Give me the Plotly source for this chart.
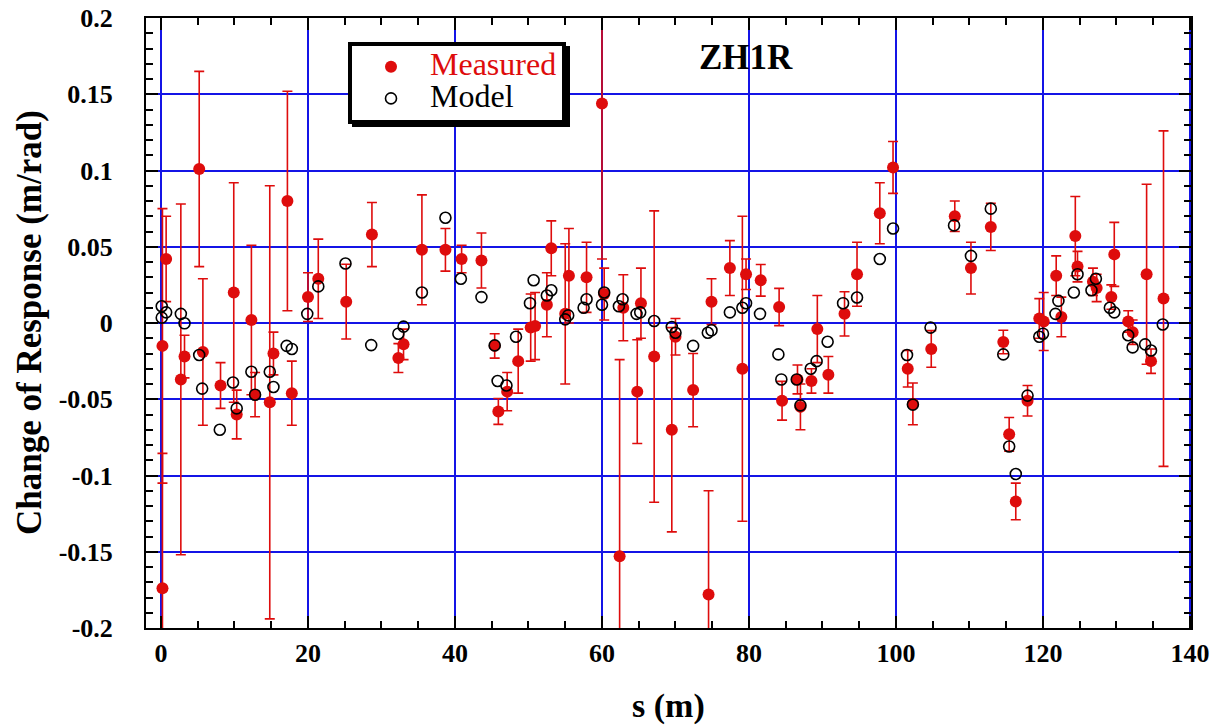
import plotly.graph_objects as go

# Measured change of response at each BPM position, with symmetric errors
meas_s = [0.2, 0.2, 0.7, 2.7, 3.2, 5.2, 5.7, 8.1, 9.9, 10.3, 12.3, 12.8, 14.8, 15.3,
          17.2, 17.8, 20.0, 21.4, 25.2, 28.7, 32.3, 33.0, 35.5, 38.7, 40.9, 43.6,
          45.4, 45.9, 47.1, 48.6, 50.3, 50.9, 52.5, 53.1, 55.0, 55.5, 57.9, 60.0,
          60.3, 62.4, 62.9, 64.8, 65.3, 67.1, 69.5, 70.0, 72.4, 74.5, 74.9, 77.4,
          79.1, 79.6, 81.6, 84.1, 84.5, 86.6, 87.0, 88.5, 89.3, 90.8, 93.0, 94.7,
          97.8, 99.6, 101.6, 102.3, 104.8, 108.0, 110.2, 112.9, 114.6, 115.4, 116.3,
          117.9, 119.5, 120.1, 121.8, 122.5, 124.4, 124.7, 126.8, 127.3, 129.3,
          129.7, 131.6, 132.2, 134.1, 134.7, 136.4]
meas_dr = [-0.015, -0.174, 0.042, -0.037, -0.022, 0.101, -0.019, -0.041, 0.020, -0.060,
           0.002, -0.047, -0.052, -0.020, 0.080, -0.046, 0.017, 0.029, 0.014, 0.058,
           -0.023, -0.014, 0.048, 0.048, 0.042, 0.041, -0.015, -0.058, -0.045, -0.025,
           -0.003, -0.002, 0.012, 0.049, 0.006, 0.031, 0.030, 0.144, 0.019, -0.153,
           0.010, -0.045, 0.013, -0.022, -0.070, -0.009, -0.044, -0.178, 0.014, 0.036,
           -0.030, 0.032, 0.028, 0.0105, -0.051, -0.037, -0.055, -0.038, -0.004, -0.034,
           0.006, 0.032, 0.072, 0.102, -0.030, -0.053, -0.017, 0.070, 0.036, 0.063,
           -0.0125, -0.073, -0.117, -0.051, 0.003, 0.001, 0.031, 0.004, 0.057, 0.037,
           0.027, 0.023, 0.017, 0.045, 0.001, -0.006, 0.032, -0.025, 0.016]
meas_err = [0.090, 0.0885, 0.028, 0.115, 0.014, 0.064, 0.048, 0.015, 0.072, 0.016,
            0.049, 0.0145, 0.142, 0.014, 0.072, 0.021, 0.016, 0.026, 0.0245, 0.021,
            0.0095, 0.010, 0.036, 0.014, 0.009, 0.018, 0.008, 0.0085, 0.0125, 0.021,
            0.022, 0.022, 0.021, 0.018, 0.046, 0.031, 0.023, 0.102, 0.017, 0.129,
            0.0216, 0.034, 0.023, 0.0955, 0.067, 0.012, 0.024, 0.068, 0.015, 0.018,
            0.100, 0.010, 0.0104, 0.0122, 0.0127, 0.0095, 0.015, 0.008, 0.022, 0.012,
            0.0145, 0.021, 0.020, 0.017, 0.012, 0.0137, 0.012, 0.010, 0.017, 0.0155,
            0.0077, 0.011, 0.012, 0.010, 0.013, 0.019, 0.013, 0.013, 0.026, 0.010,
            0.009, 0.009, 0.008, 0.021, 0.007, 0.008, 0.059, 0.008, 0.110]

# Model prediction at the same monitors
model_s = [0.1, 0.7, 0.1, 2.7, 3.2, 5.2, 5.6, 8.0, 9.8, 10.3, 12.3, 12.8, 14.8, 15.3,
           17.1, 17.8, 19.9, 21.4, 25.1, 28.6, 32.3, 33.0, 35.5, 38.7, 40.8, 43.6,
           45.4, 45.8, 47.0, 48.3, 50.2, 50.7, 52.5, 53.1, 55.0, 55.4, 57.5, 57.9,
           60.0, 60.3, 62.3, 62.8, 64.7, 65.2, 67.1, 69.5, 70.0, 72.4, 74.4, 74.9,
           77.4, 79.1, 79.6, 81.5, 84.0, 84.4, 86.5, 87.0, 88.4, 89.2, 90.7, 92.8,
           94.7, 97.8, 99.6, 101.5, 102.3, 104.7, 107.9, 110.2, 112.9, 114.6, 115.4,
           116.3, 117.9, 119.5, 120.0, 121.7, 122.1, 124.2, 124.7, 126.6, 127.2,
           129.1, 129.7, 131.6, 132.2, 133.9, 134.7, 136.3]
model_dr = [0.011, 0.007, 0.0035, 0.006, -0.0002, -0.021, -0.043, -0.070, -0.039, -0.056,
            -0.032, -0.047, -0.032, -0.042, -0.015, -0.017, 0.006, 0.024, 0.039, -0.0145,
            -0.007, -0.0024, 0.020, 0.069, 0.029, 0.017, -0.0147, -0.038, -0.041, -0.009,
            0.013, 0.028, 0.018, 0.0215, 0.0024, 0.005, 0.010, 0.0156, 0.012, 0.020,
            0.011, 0.0156, 0.006, 0.007, 0.0013, -0.0026, -0.0064, -0.015, -0.0064, -0.0048,
            0.007, 0.010, 0.013, 0.006, -0.0206, -0.037, -0.037, -0.054, -0.030, -0.025,
            -0.0123, 0.013, 0.0167, 0.042, 0.062, -0.021, -0.0535, -0.003, 0.064, 0.044,
            0.075, -0.0206, -0.081, -0.099, -0.0476, -0.009, -0.007, 0.006, 0.0145, 0.020,
            0.032, 0.0215, 0.029, 0.010, 0.007, -0.008, -0.016, -0.014, -0.018, -0.001]

x_tick_vals = [0, 20, 40, 60, 80, 100, 120, 140]
x_tick_text = ["0", "20", "40", "60", "80", "100", "120", "140"]
y_tick_vals = [0.2, 0.15, 0.1, 0.05, 0, -0.05, -0.1, -0.15, -0.2]
y_tick_text = ["0.2", "0.15", "0.1", "0.05", "0", "-0.05", "-0.1", "-0.15", "-0.2"]

SERIF = "Liberation Serif, Times New Roman, serif"
RED = "rgb(222,12,12)"
GRID = "rgb(20,20,230)"

# plot-area geometry in pixels, used to place the legend and its drop shadow
FIG_W, FIG_H = 1214, 728
M_L, M_R, M_T, M_B = 146, 23, 18, 100
PLOT_W = FIG_W - M_L - M_R
PLOT_H = FIG_H - M_T - M_B


def px_to_paper_x(px):
    return (px - M_L) / PLOT_W


def px_to_paper_y(py):
    return (FIG_H - M_B - py) / PLOT_H


fig = go.Figure()
fig.add_trace(go.Scatter(
    x=meas_s, y=meas_dr, mode="markers",
    name='<span style="color:rgb(222,12,12);font-size:32px">Measured</span>',
    marker=dict(symbol="circle", size=12, color=RED),
    error_y=dict(type="data", array=meas_err, visible=True,
                 color=RED, thickness=1.6, width=5),
))
fig.add_trace(go.Scatter(
    x=model_s, y=model_dr, mode="markers",
    name='<span style="font-size:32px">Model</span>',
    marker=dict(symbol="circle-open", size=11, color="black", line=dict(width=1.6)),
))

axis_common = dict(
    showline=True, linecolor="black", linewidth=2, mirror="ticks",
    ticks="inside", ticklen=12, tickwidth=2, tickcolor="black",
    showgrid=True, gridcolor=GRID, gridwidth=2, zeroline=False,
    automargin=False,
    tickfont=dict(family=SERIF, size=26, color="black", weight="bold"),
)

# legend box: outer corner at (348, 42) px; shadow offset by 4 px
LEG_LEFT, LEG_TOP, LEG_RIGHT, LEG_BOTTOM = 348, 42, 566, 123
SHADOW = 4

fig.update_layout(
    width=FIG_W, height=FIG_H,
    margin=dict(l=M_L, r=M_R, t=M_T, b=M_B, autoexpand=False),
    paper_bgcolor="white", plot_bgcolor="white",
    xaxis=dict(range=[-2.04, 140.14], tickvals=x_tick_vals, ticktext=x_tick_text,
               minor=dict(dtick=5, tick0=0, ticks="inside", ticklen=7,
                          tickwidth=1.5, tickcolor="black", showgrid=False),
               ticklabelstandoff=1, **axis_common),
    yaxis=dict(range=[-0.2, 0.2], tickvals=y_tick_vals, ticktext=y_tick_text,
               minor=dict(dtick=0.01, tick0=0, ticks="inside", ticklen=7,
                          tickwidth=1.5, tickcolor="black", showgrid=False),
               ticklabelstandoff=26, **axis_common),
    showlegend=True,
    legend=dict(x=px_to_paper_x(LEG_LEFT), y=px_to_paper_y(LEG_TOP),
                xanchor="left", yanchor="top",
                bgcolor="white", bordercolor="black", borderwidth=4,
                font=dict(family=SERIF, size=22, color="black"),
                itemwidth=68, tracegroupgap=0),
    shapes=[
        dict(type="rect", xref="paper", yref="paper", layer="above",
             x0=px_to_paper_x(LEG_LEFT + SHADOW), x1=px_to_paper_x(LEG_RIGHT + SHADOW),
             y0=px_to_paper_y(LEG_BOTTOM + SHADOW), y1=px_to_paper_y(LEG_TOP + SHADOW),
             fillcolor="black", line=dict(width=0)),
    ],
    annotations=[
        dict(text="<b>ZH1R</b>", x=79.6, y=0.174, xref="x", yref="y",
             xanchor="center", yanchor="middle",
             showarrow=False, font=dict(family=SERIF, size=35, color="black")),
        dict(text="<b>Change of Response (m/rad)</b>", x=-0.112, y=0.5016,
             xref="paper", yref="paper", xanchor="center", yanchor="middle",
             textangle=-90, showarrow=False,
             font=dict(family=SERIF, size=35, color="black")),
        dict(text="<b>s (m)</b>", x=0.5, y=px_to_paper_y(706), xref="paper", yref="paper",
             xanchor="center", yanchor="middle",
             showarrow=False, font=dict(family=SERIF, size=34, color="black")),
    ],
)

fig.write_html("out.html")
